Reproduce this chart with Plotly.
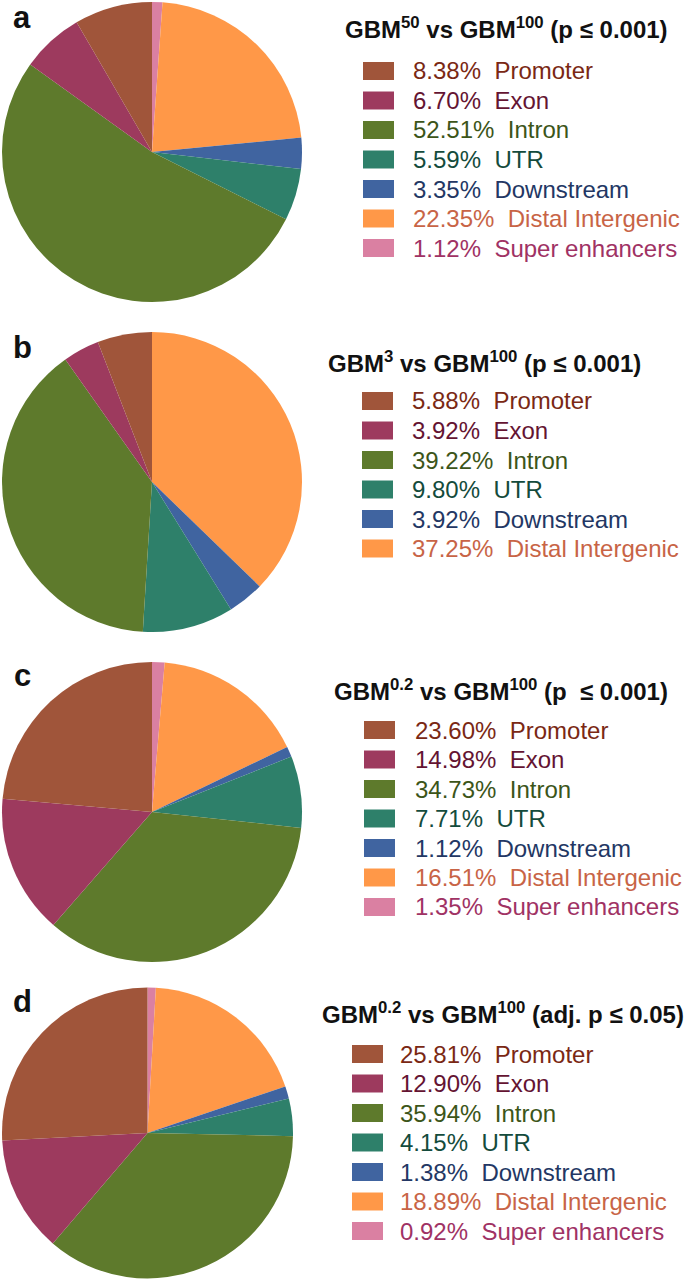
import plotly.graph_objects as go

W, H = 685, 1282

categories = ["Promoter", "Exon", "Intron", "UTR", "Downstream", "Distal Intergenic", "Super enhancers"]
slice_colors = ["#A0553A", "#9D3A5E", "#5E7A2C", "#2E806A", "#4064A0", "#FF9848", "#DA80A2"]
text_colors = ["#7A2814", "#641432", "#3C5519", "#144B3C", "#233764", "#C86446", "#A03264"]

values_a = [8.38, 6.70, 52.51, 5.59, 3.35, 22.35, 1.12]
values_b = [5.88, 3.92, 39.22, 9.80, 3.92, 37.25]
values_c = [23.60, 14.98, 34.73, 7.71, 1.12, 16.51, 1.35]
values_d = [25.81, 12.90, 35.94, 4.15, 1.38, 18.89, 0.92]

titles = [
    "<b>GBM<sup>50</sup> vs GBM<sup>100</sup> (p \u2264 0.001)</b>",
    "<b>GBM<sup>3</sup> vs GBM<sup>100</sup> (p \u2264 0.001)</b>",
    "<b>GBM<sup>0.2</sup> vs GBM<sup>100</sup> (p \u00a0\u2264 0.001)</b>",
    "<b>GBM<sup>0.2</sup> vs GBM<sup>100</sup> (adj. p \u2264 0.05)</b>",
]
panel_letters = ["a", "b", "c", "d"]

# layout (pixels)
panels = [
    dict(vals=values_a, cx=152, cy=152, r=150, title_x=506, title_y=28,
         sq_x=363, txt_x=411, row0=71, letter_y=17),
    dict(vals=values_b, cx=152, cy=482, r=150, title_x=484, title_y=362,
         sq_x=362, txt_x=410, row0=401, letter_y=347),
    dict(vals=values_c, cx=152, cy=812, r=150, title_x=501, title_y=690,
         sq_x=364, txt_x=413, row0=730, letter_y=675),
    dict(vals=values_d, cx=147.5, cy=1133, r=145.5, title_x=503, title_y=1013,
         sq_x=352, txt_x=398, row0=1054, letter_y=1001),
]
ROW = 29.5
SQW, SQH = 31, 18
FONT = "Liberation Sans, Arial, sans-serif"


def px(x):
    return x / W


def py(y):
    return 1 - y / H


fig = go.Figure()
shapes = []
annotations = []

for i, p in enumerate(panels):
    n = len(p["vals"])
    # drawn clockwise from 12 o'clock in reverse legend order
    fig.add_trace(go.Pie(
        labels=categories[:n][::-1], values=p["vals"][::-1],
        marker=dict(colors=slice_colors[:n][::-1], line=dict(width=0)),
        sort=False, direction="clockwise", rotation=0,
        textinfo="none", showlegend=False, hoverinfo="label+percent",
        domain=dict(x=[px(p["cx"] - p["r"]), px(p["cx"] + p["r"])],
                    y=[py(p["cy"] + p["r"]), py(p["cy"] - p["r"])]),
    ))
    annotations.append(dict(
        text=titles[i], x=px(p["title_x"]), y=py(p["title_y"]),
        xref="paper", yref="paper", xanchor="center", yanchor="middle",
        showarrow=False, font=dict(family=FONT, size=24, color="#111111")))
    annotations.append(dict(
        text="<b>" + panel_letters[i] + "</b>", x=px(22), y=py(p["letter_y"]),
        xref="paper", yref="paper", xanchor="center", yanchor="middle",
        showarrow=False, font=dict(family=FONT, size=31, color="#111111")))
    for j in range(n):
        yc = p["row0"] + j * ROW
        shapes.append(dict(
            type="rect", xref="paper", yref="paper",
            x0=px(p["sq_x"]), x1=px(p["sq_x"] + SQW),
            y0=py(yc + SQH / 2), y1=py(yc - SQH / 2),
            fillcolor=slice_colors[j], line=dict(width=0)))
        annotations.append(dict(
            text=f"{p['vals'][j]:.2f}%\u00a0\u00a0{categories[j]}",
            x=px(p["txt_x"]), y=py(yc),
            xref="paper", yref="paper", xanchor="left", yanchor="middle",
            showarrow=False, font=dict(family=FONT, size=24, color=text_colors[j])))

fig.update_layout(
    width=W, height=H,
    margin=dict(l=0, r=0, t=0, b=0),
    paper_bgcolor="white", plot_bgcolor="white",
    shapes=shapes, annotations=annotations,
    showlegend=False,
)

fig.write_html("out.html",
               config={"displayModeBar": False},
               post_script="document.body.style.margin='0';document.body.style.overflow='hidden';")
